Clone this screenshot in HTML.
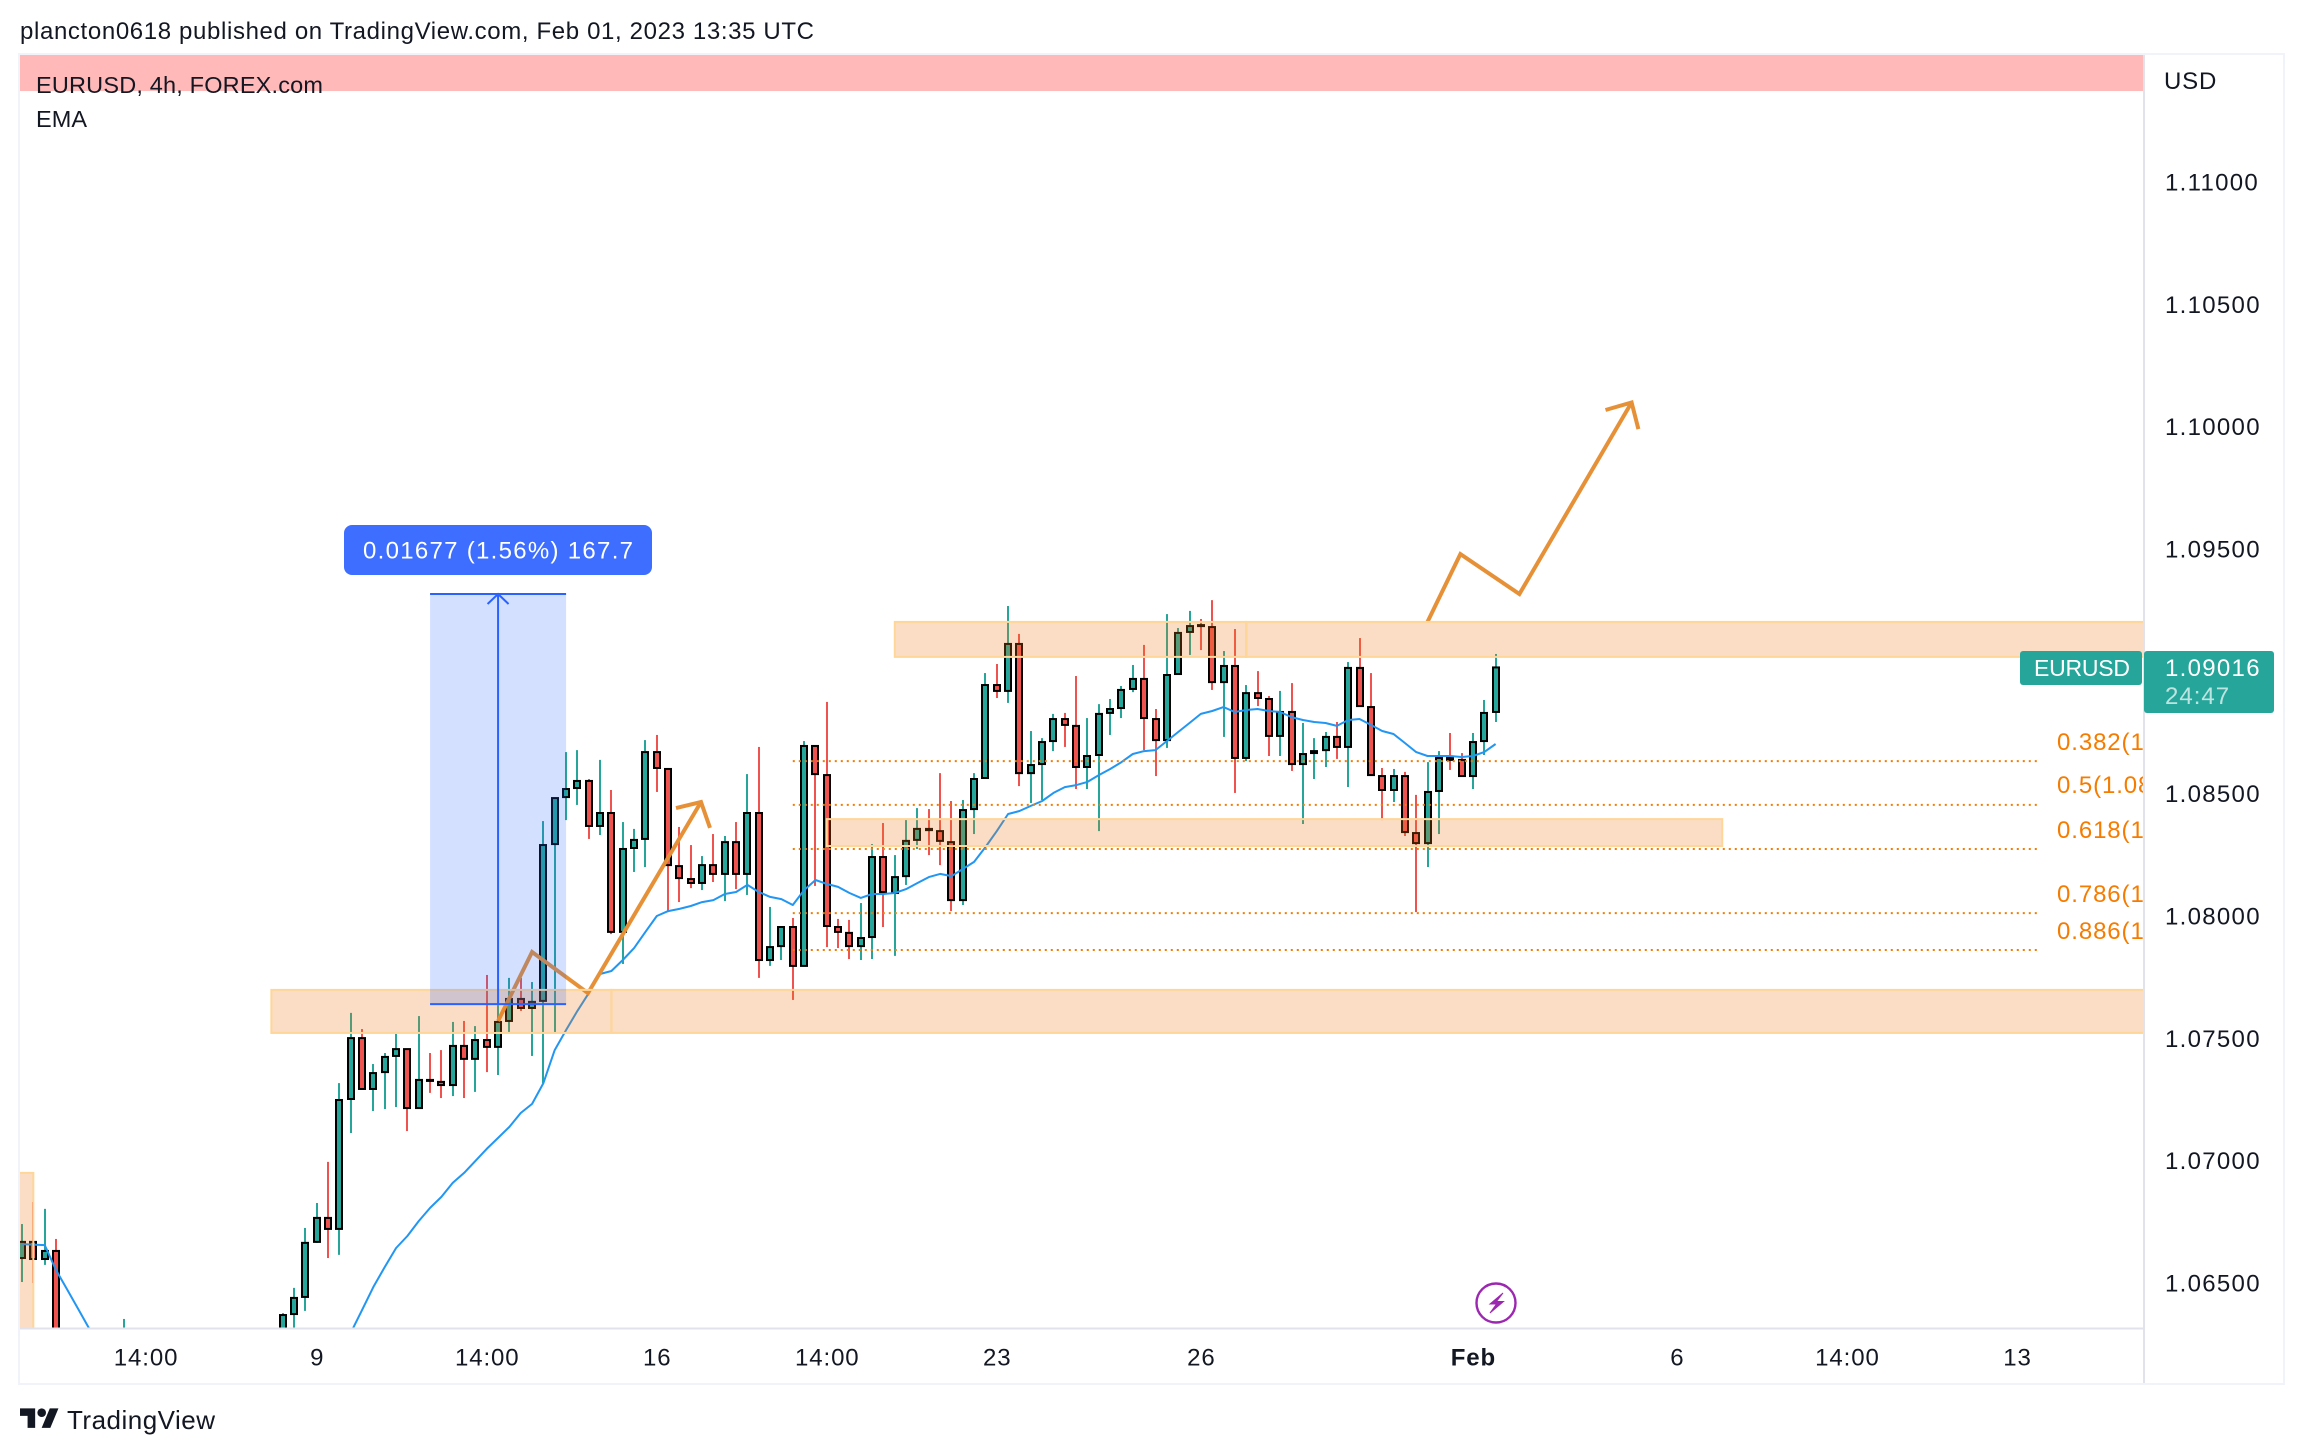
<!DOCTYPE html>
<html lang="en">
<head>
<meta charset="utf-8">
<title>EURUSD 4h chart</title>
<style>
html,body{margin:0;padding:0;background:#fff;width:2304px;height:1454px;overflow:hidden}
svg{display:block;font-family:"Liberation Sans",sans-serif}
text{white-space:pre}
</style>
</head>
<body>
<svg id="chart" xmlns="http://www.w3.org/2000/svg" width="2304" height="1454" viewBox="0 0 2304 1454">
  <defs>
    <clipPath id="pane"><rect x="20" y="55" width="2124" height="1273"/></clipPath>
  </defs>
  <rect x="0" y="0" width="2304" height="1454" fill="#fff"/>
  <text x="20" y="39" font-size="24" fill="#131722" textLength="794" lengthAdjust="spacing">plancton0618 published on TradingView.com, Feb 01, 2023 13:35 UTC</text>

  <g id="pane-layer" clip-path="url(#pane)">
    <g id="candle-layer"></g>
    <polyline id="ema-line" fill="none" stroke="#2196f3" stroke-width="2" stroke-linejoin="round"/>
    <g id="fib-layer"></g>
    <g id="path-layer"></g>
    <g id="zone-layer"></g>
    <g id="measure-layer"></g>
    <g>
      <circle cx="1496" cy="1303" r="19.5" fill="#fff" stroke="#9c27b0" stroke-width="2.4"/>
      <path d="M1503 1293l-13 11h6.500l-6.500 9 13.500-11.500h-7z" fill="#9c27b0" stroke="#9c27b0" stroke-width="1"/>
    </g>
  </g>

  <text x="36" y="93" font-size="23.500" fill="#131722" textLength="287" lengthAdjust="spacing">EURUSD, 4h, FOREX.com</text>
  <text x="36" y="127" font-size="23.500" fill="#131722" textLength="51" lengthAdjust="spacing">EMA</text>

  <rect x="18" y="53" width="2" height="1332" fill="#f0f3fa"/>
  <rect x="18" y="53" width="2267" height="2" fill="#f0f3fa"/>
  <rect x="18" y="1383" width="2267" height="2" fill="#f0f3fa"/>
  <rect x="2283" y="53" width="2" height="1332" fill="#f0f3fa"/>
  <rect x="20" y="1327.500" width="2124" height="2" fill="#e0e3eb"/>
  <rect x="2143" y="55" width="2" height="1328" fill="#e0e3eb"/>

  <text x="2164" y="89" font-size="24" fill="#131722" letter-spacing="0.800">USD</text>
  <g id="price-axis"></g>
  <g id="time-axis"></g>

  <rect x="2020" y="651" width="122" height="34" rx="3" fill="#26a69a"/>
  <text x="2034" y="676" font-size="23" fill="#fff" textLength="96" lengthAdjust="spacing">EURUSD</text>
  <rect x="2144" y="651" width="130" height="62" rx="3" fill="#26a69a"/>
  <text x="2165" y="676" font-size="24" fill="#fff" letter-spacing="1.300">1.09016</text>
  <text x="2165" y="704" font-size="24" fill="#fff" fill-opacity="0.700" letter-spacing="1">24:47</text>

  <g>
    <path transform="translate(20 1404) scale(1.083)" d="M14 22H7V11H0V4h14v18zM28 22h-8l7.500-18h8L28 22z" fill="#131722"/>
    <circle cx="41.700" cy="1412.700" r="4.300" fill="#131722"/>
    <text x="67" y="1429" font-size="26" fill="#131722" textLength="148" lengthAdjust="spacing">TradingView</text>
  </g>
</svg>

<script>
const opens = [1.06602,1.06668,1.06598,1.06631,1.0605,1.0595,1.0590,1.0596,1.0602,1.0608,
1.0620,1.0610,1.0604,1.0606,1.0602,1.0608,1.0605,1.0600,1.0607,1.0612,
1.0609,1.0614,1.0618,1.0622,1.06373,1.06443,1.06668,1.06766,1.06721,1.07252,
1.07501,1.07293,1.07362,1.07428,1.07456,1.07215,1.07330,1.07322,1.07309,1.07469,
1.07416,1.07493,1.07465,1.07571,1.07661,1.07624,1.07653,1.08294,1.08486,1.08523,
1.08552,1.08368,1.08421,1.07935,1.08278,1.08315,1.08670,1.08601,1.08204,1.08151,
1.08135,1.08208,1.08172,1.08302,1.08172,1.08421,1.07820,1.07877,1.07955,1.07796,
1.08695,1.08576,1.07955,1.07931,1.07877,1.07914,1.08241,1.08094,1.08163,1.08311,
1.08356,1.08347,1.08302,1.08065,1.08437,1.08564,1.08944,1.08920,1.09112,1.08584,
1.08621,1.08715,1.08805,1.08777,1.08609,1.08658,1.08830,1.08850,1.08928,1.08969,
1.08805,1.08719,1.08989,1.09161,1.09189,1.09181,1.08956,1.09022,1.08646,1.08911,
1.08887,1.08736,1.08834,1.08621,1.08666,1.08678,1.08732,1.08691,1.09014,1.08854,
1.08572,1.08515,1.08572,1.08339,1.08298,1.08511,1.08646,1.08638,1.08572,1.08715,
1.08834];
const highs = [1.06741,1.06831,1.06803,1.06680,1.0610,1.0604,1.0600,1.0606,1.0612,1.06353,
1.0628,1.0618,1.0612,1.0614,1.0610,1.0616,1.0612,1.0610,1.0615,1.0620,
1.0616,1.0622,1.0626,1.06377,1.06480,1.06725,1.06827,1.06995,1.07317,1.07604,
1.07538,1.07395,1.07440,1.07518,1.07456,1.07591,1.07440,1.07452,1.07567,1.07571,
1.07550,1.07759,1.07636,1.07747,1.07747,1.07730,1.08388,1.08482,1.08670,1.08678,
1.08560,1.08638,1.08515,1.08384,1.08356,1.08719,1.08740,1.08605,1.08364,1.08290,
1.08245,1.08335,1.08327,1.08384,1.08580,1.08691,1.08037,1.07955,1.07992,1.08715,
1.08695,1.08875,1.07988,1.07984,1.08053,1.08294,1.08380,1.08249,1.08396,1.08441,
1.08437,1.08584,1.08470,1.08474,1.08584,1.08993,1.09030,1.09267,1.09153,1.08756,
1.08727,1.08826,1.08830,1.08981,1.08809,1.08866,1.08887,1.08940,1.09026,1.09108,
1.08846,1.09234,1.09177,1.09247,1.09214,1.09291,1.09083,1.09173,1.08944,1.09001,
1.08899,1.08920,1.08952,1.08789,1.08727,1.08752,1.08793,1.09038,1.09136,1.08993,
1.08605,1.08601,1.08589,1.08495,1.08629,1.08674,1.08748,1.08666,1.08748,1.08883,
1.09071];
const lows = [1.06504,1.06500,1.06574,1.0600,1.0590,1.0585,1.0582,1.0590,1.0595,1.0600,
1.0605,1.0600,1.0598,1.0600,1.0596,1.0602,1.0598,1.0594,1.0600,1.0606,
1.0602,1.0608,1.0612,1.0618,1.0628,1.06386,1.06664,1.06602,1.06615,1.07113,
1.07293,1.07203,1.07211,1.07219,1.07121,1.07215,1.07277,1.07256,1.07264,1.07256,
1.07281,1.07362,1.07350,1.07526,1.07612,1.07428,1.07317,1.07522,1.08392,1.08454,
1.08315,1.08331,1.07926,1.07804,1.08180,1.08200,1.08507,1.08016,1.08057,1.08114,
1.08106,1.08139,1.08061,1.08110,1.08086,1.07747,1.07796,1.07820,1.07657,1.07796,
1.08123,1.07873,1.07869,1.07824,1.07820,1.07824,1.07955,1.07837,1.08127,1.08274,
1.08249,1.08208,1.08020,1.08045,1.08335,1.08564,1.08891,1.08871,1.08531,1.08462,
1.08474,1.08674,1.08691,1.08519,1.08519,1.08347,1.08740,1.08809,1.08915,1.08678,
1.08572,1.08687,1.08989,1.09067,1.09087,1.08924,1.08732,1.08503,1.08633,1.08858,
1.08654,1.08654,1.08593,1.08376,1.08560,1.08609,1.08642,1.08527,1.08858,1.08576,
1.08392,1.08466,1.08327,1.08016,1.08200,1.08335,1.08597,1.08572,1.08519,1.08658,
1.08793];
const closes = [1.06668,1.06598,1.06631,1.0605,1.0595,1.0590,1.0596,1.0602,1.0608,1.0620,
1.0610,1.0604,1.0606,1.0602,1.0608,1.0605,1.0600,1.0607,1.0612,1.0609,
1.0614,1.0618,1.0622,1.06369,1.06439,1.06664,1.06766,1.06721,1.07248,1.07501,
1.07293,1.07358,1.07424,1.07456,1.07215,1.07330,1.07326,1.07309,1.07469,1.07416,
1.07493,1.07465,1.07567,1.07661,1.07624,1.07649,1.08290,1.08482,1.08519,1.08552,
1.08368,1.08421,1.07935,1.08274,1.08311,1.08670,1.08605,1.08208,1.08155,1.08135,
1.08208,1.08172,1.08302,1.08172,1.08421,1.07820,1.07873,1.07955,1.07796,1.08695,
1.08580,1.07959,1.07935,1.07877,1.07910,1.08241,1.08098,1.08159,1.08307,1.08356,
1.08351,1.08307,1.08065,1.08433,1.08560,1.08944,1.08920,1.09112,1.08584,1.08617,
1.08711,1.08805,1.08781,1.08609,1.08654,1.08826,1.08846,1.08924,1.08969,1.08809,
1.08719,1.08985,1.09157,1.09185,1.09185,1.08956,1.09022,1.08646,1.08911,1.08891,
1.08736,1.08834,1.08621,1.08662,1.08674,1.08732,1.08691,1.09014,1.08858,1.08576,
1.08515,1.08572,1.08343,1.08298,1.08507,1.08646,1.08638,1.08572,1.08711,1.08830,
1.09016];
const emaValues = [1.06659,1.06657,1.06655,1.06553,1.06472,1.06390,1.06308,1.0623,1.0617,1.0612,
1.0607,1.0603,1.0600,1.0598,1.0596,1.0594,1.0593,1.0592,1.0592,1.0592,
1.0593,1.0594,1.0595,1.0597,1.0600,1.0604,1.0610,1.0616,1.0623,1.06296,
1.06390,1.06484,1.06565,1.06643,1.06692,1.06753,1.06807,1.06852,1.06909,1.06950,
1.06999,1.07048,1.07093,1.07138,1.07195,1.07232,1.07317,1.07452,1.07534,1.07612,
1.07685,1.07763,1.07775,1.07820,1.07869,1.07935,1.08000,1.08020,1.08029,1.08041,
1.08057,1.08065,1.08090,1.08098,1.08127,1.08098,1.08078,1.08069,1.08045,1.08106,
1.08147,1.08131,1.08119,1.08094,1.08074,1.08090,1.08090,1.08094,1.08110,1.08135,
1.08159,1.08172,1.08163,1.08192,1.08221,1.08282,1.08347,1.08417,1.08429,1.08450,
1.08470,1.08503,1.08527,1.08535,1.08548,1.08576,1.08601,1.08629,1.08662,1.08674,
1.08678,1.08715,1.08752,1.08789,1.08826,1.08838,1.08854,1.08834,1.08842,1.08846,
1.08838,1.08834,1.08813,1.08801,1.08793,1.08789,1.08777,1.08801,1.08805,1.08781,
1.08756,1.08744,1.08707,1.08670,1.08654,1.08654,1.08654,1.08650,1.08654,1.08670,
1.08703];

const priceTicks = [1.11,1.105,1.10,1.095,1.085,1.08,1.075,1.07,1.065];
const timeTickLabels = ['14:00','9','14:00','16','14:00','23','26','Feb','6','14:00','13'];
const timeTickBars = [10.9,26,41,56,71,86,104,128,146,161,176];

const fibRatios = ['0.382','0.5','0.618','0.786','0.886'];
const fibPrices = [1.08633,1.08454,1.08274,1.08012,1.07861];
const fibLabelOffsets = [19,20,19,19,19];
const fibStartBar = 68;
const fibEndBar = 177.8;

const zoneStartBars = [22,52,77,108,71,-3];
const zoneEndBars = [52,190,108,190,150,1];
const zoneTopPrices = [1.07698,1.07698,1.09202,1.09202,1.08396,1.06950];
const zoneBottomPrices = [1.07522,1.07522,1.09059,1.09059,1.08286,1.0600];

const bandTopPrice = 1.117;
const bandBottomPrice = 1.11372;

const arrowOneBars = [42,45,49.93,59.9];
const arrowOnePrices = [1.07571,1.07853,1.07685,1.08466];
const arrowOneHeadBars = [57.7,59.9,60.7];
const arrowOneHeadPrices = [1.08441,1.08466,1.08360];
const arrowTwoBars = [124,126.9,132.1,142.0];
const arrowTwoPrices = [1.09202,1.09479,1.09316,1.10099];
const arrowTwoHeadBars = [139.7,142.0,142.6];
const arrowTwoHeadPrices = [1.10068,1.10099,1.09990];

const measureStartBar = 36;
const measureEndBar = 48;
const measureTopPrice = 1.09316;
const measureBottomPrice = 1.07640;
const measureLabel = '0.01677 (1.56%) 167.7';

const SVG_NS = 'http://www.w3.org/2000/svg';
function xOf(bar){ return 22 + bar * 11.335; }
function yOf(price){ return 916 - (price - 1.08) * 24466; }
function make(tag, attrs, parent){
  const el = document.createElementNS(SVG_NS, tag);
  for (const k in attrs) el.setAttribute(k, attrs[k]);
  parent.appendChild(el);
  return el;
}

/* candles */
const candleLayer = document.getElementById('candle-layer');
opens.forEach(function(o, i){
  const c = closes[i];
  const up = c >= o;
  const color = up ? '#26a69a' : '#ef5350';
  const cx = Math.round(xOf(i));
  const top = yOf(Math.max(o, c));
  const bottom = yOf(Math.min(o, c));
  const wick = make('rect', {x: cx - 1, y: yOf(highs[i]), width: 2, height: Math.max(0, yOf(lows[i]) - yOf(highs[i])), fill: color}, candleLayer);
  
  
  const body = make('rect', {x: cx - 3, y: top, width: 6, height: Math.max(1, bottom - top), fill: color, stroke: '#000', 'stroke-width': 2}, candleLayer);
  
  
});

/* EMA */
document.getElementById('ema-line').setAttribute('points', emaValues.map(function(v, i){
  return xOf(i).toFixed(1) + ',' + yOf(v).toFixed(1);
}).join(' '));

/* Fibonacci */
const fibLayer = document.getElementById('fib-layer');
fibPrices.forEach(function(p, i){
  const y = yOf(p);
  const line = make('line', {x1: xOf(fibStartBar), x2: xOf(fibEndBar), y1: y, y2: y, stroke: '#f57c00', 'stroke-width': 2, 'stroke-dasharray': '2 4'}, fibLayer);
  
  
  const label = make('text', {x: 2057, y: y - fibLabelOffsets[i] + 8, 'font-size': 24, fill: '#f57c00', 'letter-spacing': 0.9}, fibLayer);
  label.textContent = fibRatios[i] + '(' + p.toFixed(5) + ')';
  
  
});

/* arrows */
const pathLayer = document.getElementById('path-layer');
function polyline(bars, prices, name){
  const el = make('polyline', {
    points: bars.map(function(b, i){ return xOf(b).toFixed(1) + ',' + yOf(prices[i]).toFixed(1); }).join(' '),
    fill: 'none', stroke: '#e69138', 'stroke-width': 4, 'stroke-linejoin': 'miter'
  }, pathLayer);
  
  
}
polyline(arrowOneBars, arrowOnePrices, 'projection-path-one');
polyline(arrowOneHeadBars, arrowOneHeadPrices, 'projection-head-one');
polyline(arrowTwoBars, arrowTwoPrices, 'projection-path-two');
polyline(arrowTwoHeadBars, arrowTwoHeadPrices, 'projection-head-two');

/* zones */
const zoneLayer = document.getElementById('zone-layer');
const band = make('rect', {x: 0, y: yOf(bandTopPrice), width: 2144, height: yOf(bandBottomPrice) - yOf(bandTopPrice), fill: '#ffb9b9'}, zoneLayer);


zoneStartBars.forEach(function(s, i){
  const x1 = xOf(s), x2 = xOf(zoneEndBars[i]);
  const y1 = yOf(zoneTopPrices[i]), y2 = yOf(zoneBottomPrices[i]);
  const z = make('rect', {x: x1, y: y1, width: x2 - x1, height: y2 - y1, fill: 'rgba(235,120,20,0.25)', stroke: '#ffd699', 'stroke-width': 2}, zoneLayer);
  
  
});

/* measure tool */
const measureLayer = document.getElementById('measure-layer');
const mx1 = xOf(measureStartBar), mx2 = xOf(measureEndBar);
const my1 = yOf(measureTopPrice), my2 = yOf(measureBottomPrice);
const mcx = (mx1 + mx2) / 2;
const mRect = make('rect', {x: mx1, y: my1, width: mx2 - mx1, height: my2 - my1, fill: 'rgba(41,98,255,0.2)'}, measureLayer);


const mTop = make('line', {x1: mx1, x2: mx2, y1: my1, y2: my1, stroke: '#2962ff', 'stroke-width': 2}, measureLayer);


const mBottom = make('line', {x1: mx1, x2: mx2, y1: my2, y2: my2, stroke: '#2962ff', 'stroke-width': 2}, measureLayer);


const mArrow = make('line', {x1: mcx, x2: mcx, y1: my1, y2: my2, stroke: '#2962ff', 'stroke-width': 2}, measureLayer);


const mHead = make('polyline', {points: (mcx - 10.5) + ',' + (my1 + 10) + ' ' + mcx + ',' + my1 + ' ' + (mcx + 10.5) + ',' + (my1 + 10), fill: 'none', stroke: '#2962ff', 'stroke-width': 2}, measureLayer);


const mLabelBox = make('rect', {x: 344, y: my1 - 69, width: 308, height: 50, rx: 8, fill: '#3d6eff'}, measureLayer);


const mLabel = make('text', {x: 363, y: my1 - 35.500, 'font-size': 24, fill: '#fff', textLength: 270, lengthAdjust: 'spacing'}, measureLayer);
mLabel.textContent = measureLabel;



/* price axis */
const priceAxis = document.getElementById('price-axis');
priceTicks.forEach(function(p){
  const t = make('text', {x: 2165, y: yOf(p) + 8.500, 'font-size': 24, fill: '#131722', 'letter-spacing': 1.3}, priceAxis);
  t.textContent = p.toFixed(5);
  
  
});

/* time axis */
const timeAxis = document.getElementById('time-axis');
timeTickLabels.forEach(function(lab, i){
  const t = make('text', {x: xOf(timeTickBars[i]) + 0.5, y: 1365.500, 'font-size': 24, fill: '#131722', 'text-anchor': 'middle', 'letter-spacing': 0.9, 'font-weight': lab === 'Feb' ? 'bold' : 'normal'}, timeAxis);
  t.textContent = lab;
  
  
});
</script>
</body>
</html>
